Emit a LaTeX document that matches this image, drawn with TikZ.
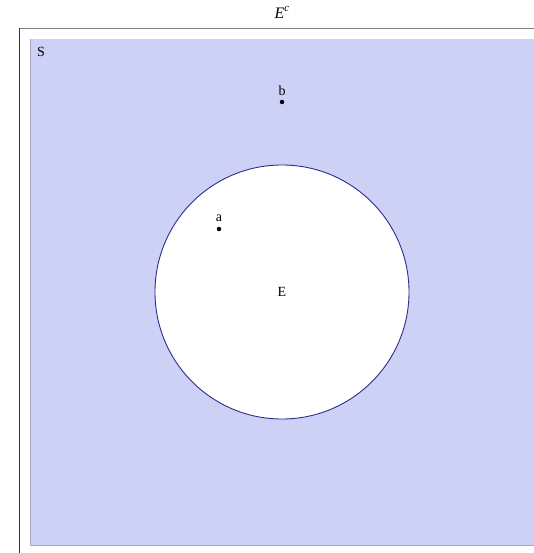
\documentclass[tikz,border=0pt]{standalone}
\usepackage{fontspec}
\setmainfont{Liberation Serif}
\definecolor{regfill}{RGB}{205,209,246}
\definecolor{regedge}{RGB}{165,168,200}
\definecolor{circedge}{RGB}{45,45,140}
\definecolor{frametop}{RGB}{130,130,130}
\begin{document}
\begin{tikzpicture}[x=1pt,y=-1pt,
  lbl/.style={font=\fontsize{14}{16}\selectfont, inner sep=0pt},
  dotmark/.style={circle, fill=black, inner sep=0pt, minimum size=4.5pt}]
\useasboundingbox (0,0) rectangle (534,553);
\fill[white] (0,0) rectangle (534,553);
% frame lines
\draw[frametop, line width=1.8pt] (19,28.5) -- (534,28.5);
\draw[black!80, line width=1pt] (19.5,28) -- (19.5,553);
% region S
\fill[regfill] (30,39) rectangle (534,545);
\draw[regedge, line width=1pt] (30.5,39) -- (30.5,545.5) -- (534,545.5);
% circle E
\node[circle, draw=circedge, fill=white, line width=0.9pt, minimum size=254pt, inner sep=0pt] (E) at (282,292) {};
\node[lbl] (Elbl) at (282,292) {E};
% labels
\node[lbl, anchor=base west] (S) at (37,57) {S};
\node[lbl, font=\fontsize{16}{18}\selectfont, anchor=base] (Ec) at (282,19) {\textit{E}\raisebox{0.45em}{\fontsize{11}{12}\selectfont\textit{c}}};
\node[dotmark] (b) at (282,102) {};
\node[lbl, anchor=base] (blbl) at (282,96) {b};
\node[dotmark] (a) at (219,229) {};
\node[lbl, anchor=base] (albl) at (219,222) {a};
\end{tikzpicture}
\end{document}
